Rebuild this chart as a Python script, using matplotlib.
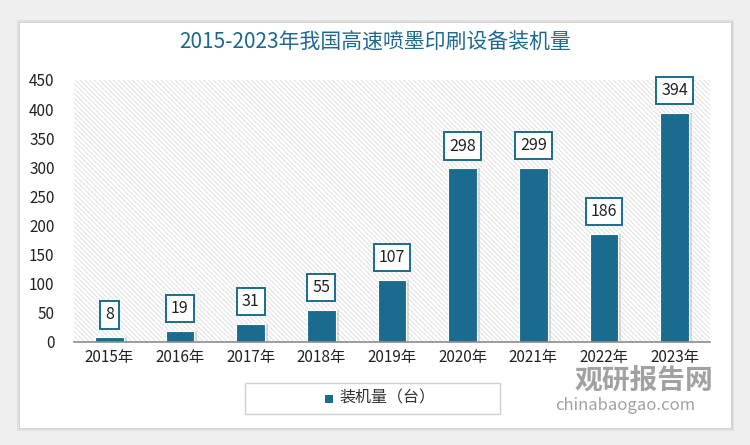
import matplotlib.pyplot as plt
from matplotlib.patches import Rectangle

plt.rcParams['font.family'] = ['Noto Sans CJK SC', 'DejaVu Sans']
plt.rcParams['hatch.linewidth'] = 0.6

years = ['2015年', '2016年', '2017年', '2018年', '2019年',
         '2020年', '2021年', '2022年', '2023年']
installs = [8, 19, 31, 55, 107, 298, 299, 186, 394]
y_ticks = [0, 50, 100, 150, 200, 250, 300, 350, 400, 450]

bar_color = '#1b6b8e'
title_color = '#1f6890'

fig = plt.figure(figsize=(7.5, 4.45), dpi=100)
fig.patch.set_facecolor('#efefef')

# white card with soft shadow
for i, a in enumerate([0.05, 0.05, 0.06]):
    fig.patches.append(Rectangle((20 / 750 - i * 0.002, 17 / 445 - i * 0.003),
                                 711 / 750 + i * 0.004, 405 / 445 + i * 0.006,
                                 transform=fig.transFigure, facecolor='#000000',
                                 alpha=a, edgecolor='none', zorder=0))
fig.patches.append(Rectangle((20 / 750, 17 / 445), 711 / 750, 405 / 445,
                             transform=fig.transFigure, facecolor='white',
                             edgecolor='none', zorder=1))

ax = fig.add_axes([74 / 750, 1 - 342 / 445, 636 / 750, 262 / 445])
ax.set_facecolor('none')
ax.set_zorder(2)

# hatched plot background
ax.add_patch(Rectangle((0, 0), 1, 1, transform=ax.transAxes, facecolor='white',
                       edgecolor='#dcdcdc', hatch='\\\\\\\\\\\\\\', linewidth=0,
                       zorder=0))

x = list(range(len(years)))
# slight bar shadow
ax.bar([i + 0.04 for i in x], installs, width=0.41, color='#bbbbbb', alpha=0.5,
       zorder=2)
ax.bar(x, installs, width=0.41, color=bar_color, edgecolor='white', linewidth=0.8,
       zorder=3)

for i, v in zip(x, installs):
    ax.annotate(str(v), (i, v), xytext=(0, 10), textcoords='offset points',
                ha='center', va='bottom', fontsize=11.5, color='#222222',
                bbox=dict(boxstyle='square,pad=0.32', facecolor='white',
                          edgecolor=bar_color, linewidth=1.4),
                zorder=5)

ax.set_xlim(-0.5, 8.5)
ax.set_ylim(0, 450)
ax.set_yticks(y_ticks)
ax.set_xticks(x)
ax.set_xticklabels(years)
ax.tick_params(axis='both', length=0, labelsize=11, colors='#222222')
ax.tick_params(axis='y', pad=14)
ax.tick_params(axis='x', pad=5)
for s in ['top', 'right', 'left']:
    ax.spines[s].set_visible(False)
ax.spines['bottom'].set_color('#8c8c8c')
ax.spines['bottom'].set_linewidth(1.2)
ax.spines['bottom'].set_zorder(4)

fig.text(0.5, 1 - 43 / 445, '2015-2023年我国高速喷墨印刷设备装机量',
         ha='center', va='center', fontsize=15, color=title_color, zorder=3)

# legend box
fig.patches.append(Rectangle((245 / 750, 1 - 414 / 445), 255 / 750, 31 / 445,
                             transform=fig.transFigure, facecolor='white',
                             edgecolor='#d0d0d0', linewidth=1, zorder=2))
fig.patches.append(Rectangle((325 / 750, 1 - 403 / 445), 8 / 750, 8 / 445,
                             transform=fig.transFigure, facecolor=bar_color,
                             edgecolor='none', zorder=3))
fig.text(339 / 750, 1 - 398 / 445, '装机量（台）', ha='left', va='center',
         fontsize=11.5, color='#333333', zorder=3)

# watermark
fig.text(575 / 750, 1 - 381 / 445, '观研报告网', ha='left', va='center',
         fontsize=20, fontweight='bold', color='#8a8a8a', alpha=0.8, zorder=6)
fig.text(555 / 750, 1 - 405 / 445, 'chinabaogao.com', ha='left', va='center',
         fontsize=12, color='#8a8a8a', alpha=0.8, zorder=6)

fig.savefig('out.png', dpi=100, facecolor=fig.get_facecolor())
